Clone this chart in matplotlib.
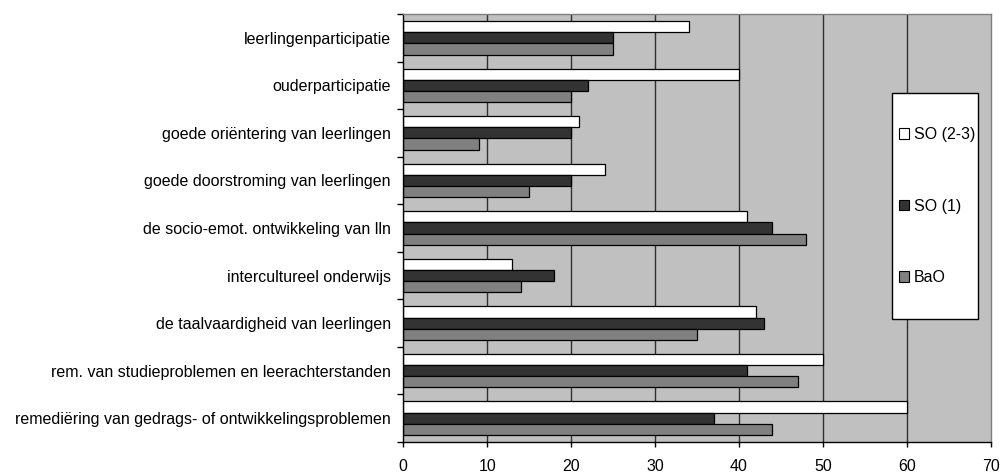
import matplotlib
matplotlib.use("Agg")
import matplotlib.pyplot as plt
import numpy as np
from matplotlib.patches import Patch, Rectangle

plt.rcParams['font.family'] = ['Liberation Sans', 'DejaVu Sans']

categories = [
    "leerlingenparticipatie",
    "ouderparticipatie",
    "goede oriëntering van leerlingen",
    "goede doorstroming van leerlingen",
    "de socio-emot. ontwikkeling van lln",
    "intercultureel onderwijs",
    "de taalvaardigheid van leerlingen",
    "rem. van studieproblemen en leerachterstanden",
    "remediëring van gedrags- of ontwikkelingsproblemen",
]
series_names = ["SO (2-3)", "SO (1)", "BaO"]
so23 = [34, 40, 21, 24, 41, 13, 42, 50, 60]
so1 = [25, 22, 20, 20, 44, 18, 43, 41, 37]
bao = [25, 20, 9, 15, 48, 14, 35, 47, 44]
x_ticks = [0, 10, 20, 30, 40, 50, 60, 70]

colors = ["#ffffff", "#333333", "#808080"]

W, H = 1001, 474
fig = plt.figure(figsize=(W / 100, H / 100), dpi=100)
ax = fig.add_axes([0.4029, 0.0675, 0.9896 - 0.4029, 0.9705 - 0.0675])
ax.set_facecolor("#c0c0c0")

n = len(categories)
y = np.arange(n)
h = 0.235
for i, (vals, col) in enumerate(zip([so23, so1, bao], colors)):
    ax.barh(y + (i - 1) * h, vals, height=h, color=col, edgecolor="black",
            linewidth=0.9, zorder=3)

ax.set_xlim(0, 70)
ax.set_ylim(n - 0.5, -0.5)
ax.set_xticks(x_ticks)
ax.set_xticklabels([str(t) for t in x_ticks], fontsize=11.5)
for t in x_ticks[1:-1]:
    ax.axvline(t, color="#303030", linewidth=1.0, zorder=1)

ax.set_yticks(y)
ax.set_yticklabels(categories, fontsize=11.5)
ax.tick_params(axis='y', which='major', length=0, pad=9)
ax.set_yticks(np.arange(n + 1) - 0.5, minor=True)
ax.tick_params(axis='y', which='minor', length=4, width=1, direction='out')
ax.tick_params(axis='x', length=3.8, width=1, direction='out', pad=8.5)

ax.spines['left'].set_color('black')
ax.spines['bottom'].set_color('black')
ax.spines['top'].set_color('#808080')
ax.spines['right'].set_color('#808080')
for s in ax.spines.values():
    s.set_linewidth(1.0)
    s.set_zorder(4)

# legend box: tall white panel with the entries spread over it
x0, x1, y0, y1 = 892, 978, 93, 319
fig.patches.append(Rectangle((x0 / W, 1 - y1 / H), (x1 - x0) / W, (y1 - y0) / H,
                             transform=fig.transFigure, facecolor='white',
                             edgecolor='black', linewidth=1.0, zorder=3))

handles = [Patch(facecolor=c, edgecolor="black", linewidth=0.8) for c in colors]
leg = fig.legend(handles, series_names, loc='center',
                 bbox_to_anchor=((x0 + x1) / 2 / W + 0.002, 1 - (y0 + y1) / 2 / H),
                 fontsize=11.5, frameon=False,
                 handlelength=0.65, handleheight=0.65, handletextpad=0.3,
                 labelspacing=3.55, borderpad=0.2, borderaxespad=0)
leg.set_zorder(5)

fig.savefig("out.png", dpi=100)
